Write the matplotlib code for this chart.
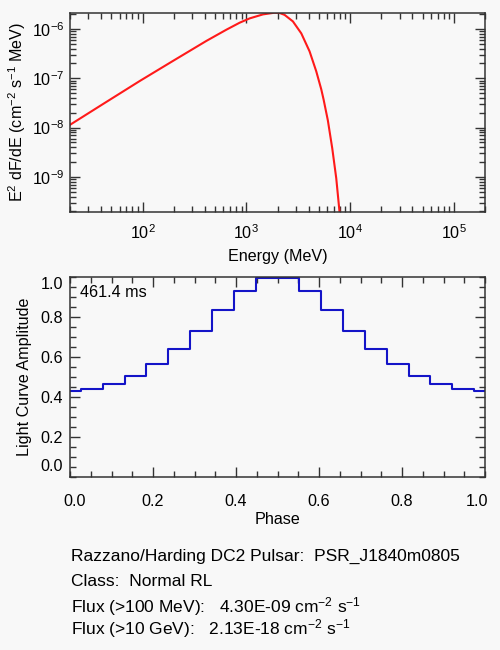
import matplotlib
matplotlib.use("Agg")
import matplotlib.pyplot as plt
from matplotlib.transforms import offset_copy
from matplotlib.ticker import MultipleLocator, FixedLocator, LogLocator, NullFormatter

plt.rcParams["font.family"] = ["Liberation Sans", "DejaVu Sans"]
plt.rcParams["mathtext.fontset"] = "custom"
plt.rcParams["mathtext.rm"] = "Liberation Sans"
plt.rcParams["mathtext.it"] = "Liberation Sans:italic"
plt.rcParams["mathtext.bf"] = "Liberation Sans:bold"
plt.rcParams["font.size"] = 11.6

# spectrum (MeV, cm^-2 s^-1 MeV)
energy = [20, 43.4, 94.2, 197.0, 413.0, 643.4, 864.1, 1078, 1448, 1877, 2097,
          2342, 2815, 3391, 4076, 4728, 5283, 5558, 6113, 6741, 7367, 7925]
sed = [1.139e-8, 3.177e-8, 8.816e-8, 2.250e-7, 5.714e-7, 9.634e-7, 1.335e-6,
       1.631e-6, 1.966e-6, 2.128e-6, 2.099e-6, 1.920e-6, 1.418e-6, 8.109e-7,
       3.503e-7, 1.379e-7, 5.961e-8, 3.740e-8, 1.405e-8, 3.811e-9, 9.412e-10,
       1.956e-10]

# light curve bins (centres) and amplitudes
phase = [0.0, 0.0526, 0.1053, 0.1579, 0.2105, 0.2632, 0.3158, 0.3684, 0.4211,
         0.4737, 0.5263, 0.5789, 0.6316, 0.6842, 0.7368, 0.7895, 0.8421,
         0.8947, 0.9474, 1.0]
amp = [0.430, 0.441, 0.467, 0.507, 0.564, 0.639, 0.731, 0.835, 0.932, 0.994,
       0.994, 0.932, 0.835, 0.731, 0.639, 0.564, 0.507, 0.467, 0.441, 0.430]

inner_ticks = [0.2, 0.4, 0.6, 0.8]
period_txt = "461.4 ms"
info_lines = [
    "Razzano/Harding DC2 Pulsar:  PSR_J1840m0805",
    "Class:  Normal RL",
    "Flux (>100 MeV):   4.30E-09 cm$^{-2}$ s$^{-1}$",
    "Flux (>10 GeV):   2.13E-18 cm$^{-2}$ s$^{-1}$",
]

bg = "#f8f8f8"
frame = "#333333"

fig = plt.figure(figsize=(5, 6.5), dpi=100, facecolor=bg)

# ---- spectrum
ax1 = fig.add_axes([0.14, 0.6738, 0.83, 0.3067], facecolor=bg)
ax1.plot(energy, sed, color="#ff1a1a", lw=1.5)
ax1.set_xscale("log")
ax1.set_yscale("log")
ax1.set_xlim(20, 2.0e5)
ax1.set_ylim(1.95e-10, 2.13e-6)
ax1.xaxis.set_major_locator(LogLocator(base=10, numticks=10))
ax1.yaxis.set_major_locator(LogLocator(base=10, numticks=10))
ax1.xaxis.set_minor_locator(LogLocator(base=10, subs=range(2, 10), numticks=20))
ax1.yaxis.set_minor_locator(LogLocator(base=10, subs=range(2, 10), numticks=20))
ax1.xaxis.set_minor_formatter(NullFormatter())
ax1.yaxis.set_minor_formatter(NullFormatter())
ax1.tick_params(which="both", direction="in", top=True, right=True, color=frame)
ax1.tick_params(which="major", length=7, width=1)
ax1.tick_params(which="minor", length=4, width=1)
ax1.tick_params(axis="x", which="major", pad=8)
ax1.tick_params(axis="y", which="major", pad=4)
ax1.set_xlabel("Energy (MeV)", labelpad=5)
ax1.set_ylabel("E$^2$ dF/dE (cm$^{-2}$ s$^{-1}$ MeV)", labelpad=3)
for s in ax1.spines.values():
    s.set_color(frame)
    s.set_linewidth(1.1)

# ---- light curve
ax2 = fig.add_axes([0.14, 0.2657, 0.83, 0.3077], facecolor=bg)
ax2.step(phase, amp, where="mid", color="#1414c8", lw=1.5)
ax2.set_xlim(0, 1)
ax2.set_ylim(0, 1)
# ticks at 0 and 1 sit on the frame; their labels are placed by hand below
ax2.xaxis.set_major_locator(FixedLocator(inner_ticks))
ax2.yaxis.set_major_locator(FixedLocator(inner_ticks))
ax2.xaxis.set_minor_locator(MultipleLocator(0.05))
ax2.yaxis.set_minor_locator(MultipleLocator(0.05))
ax2.xaxis.set_major_formatter(lambda v, p: f"{v:.1f}")
ax2.yaxis.set_major_formatter(lambda v, p: f"{v:.1f}")
ax2.yaxis.offsetText.set_visible(False)
ax2.xaxis.offsetText.set_visible(False)
ax2.tick_params(which="both", direction="in", top=True, right=True, color=frame)
ax2.tick_params(which="major", length=7, width=1)
ax2.tick_params(which="minor", length=4, width=1)
ax2.tick_params(axis="x", which="major", pad=12)
ax2.tick_params(axis="y", which="major", pad=5)
ax2.set_xlabel("Phase", labelpad=2)
ax2.set_ylabel("Light Curve Amplitude", labelpad=6)
for s in ax2.spines.values():
    s.set_color(frame)
    s.set_linewidth(1.1)


def end_label(txt, x, y, dx, dy, ha, va):
    tr = offset_copy(ax2.transAxes, fig=fig, x=dx, y=dy, units="points")
    ax2.text(x, y, txt, transform=tr, ha=ha, va=va)


end_label("0.0", 0, 0, -5, 7.6, "right", "center")
end_label("1.0", 0, 1, -5, -5.2, "right", "center")
end_label("0.0", 0, 0, 3, -12, "center", "top")
end_label("1.0", 1, 0, -6, -12, "center", "top")

ax2.text(0.024, 0.925, period_txt, transform=ax2.transAxes, va="center", ha="left")

# ---- info block
ys = [556.7, 581.7, 606.5, 628.5]
for line, y in zip(info_lines, ys):
    fig.text(70.7 / 500, 1 - y / 650, line, ha="left", va="center", fontsize=12.5)

fig.savefig("out.png", dpi=100, facecolor=bg)
